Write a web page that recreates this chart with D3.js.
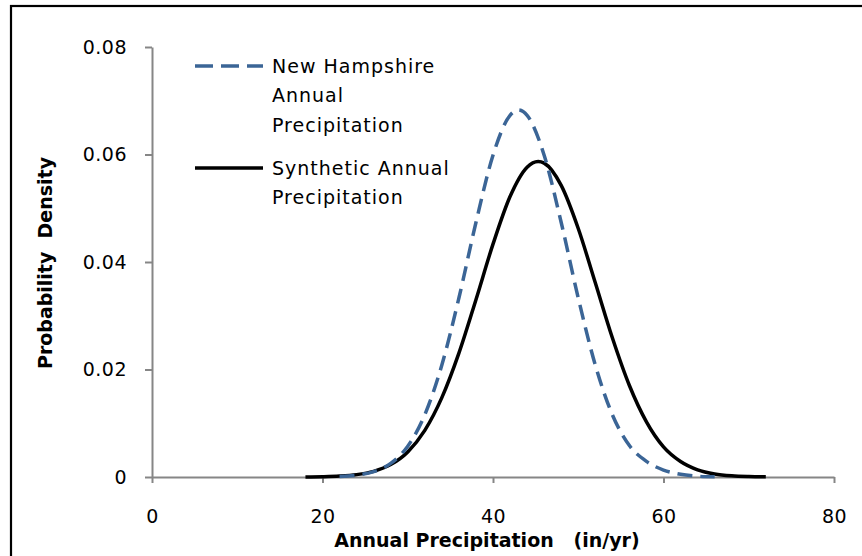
<!DOCTYPE html>
<html>
<head>
<meta charset="utf-8">
<script src="https://cdn.jsdelivr.net/npm/d3@7/dist/d3.min.js"></script>
<style>
  html, body { margin: 0; padding: 0; background: #fff; }
  svg { display: block; }
  text { font-family: "DejaVu Sans", sans-serif; fill: #000; }
</style>
</head>
<body>
<svg id="chart" width="862" height="556"></svg>
<script>
// ---- data ----
const xTicks = [0, 20, 40, 60, 80];
const yTicks = [0, 0.02, 0.04, 0.06, 0.08];
const yTickLabels = ["0", "0.02", "0.04", "0.06", "0.08"];

const nhX = [22, 24, 26, 28, 30, 32, 34, 36, 38, 40, 42, 43, 44, 46, 48, 50, 52, 54, 56, 58, 60, 62, 64, 66];
const nhY = [0.0001, 0.00034, 0.00099, 0.00253, 0.00573, 0.01158, 0.02083, 0.0333, 0.04735, 0.05986, 0.0673, 0.0683, 0.0673, 0.05986, 0.04735, 0.0333, 0.02083, 0.01158, 0.00585, 0.0029, 0.0013, 0.0005, 0.00015, 0.00003];

const synX = [18, 20, 22, 24, 26, 28, 30, 32, 34, 36, 38, 40, 42, 44, 45.3, 46, 48, 50, 52, 54, 56, 58, 60, 62, 64, 66, 68, 70, 72];
const synY = [0.00002, 0.00006, 0.00017, 0.00044, 0.00105, 0.00231, 0.00467, 0.00867, 0.01476, 0.02304, 0.03299, 0.04332, 0.05218, 0.05764, 0.0587, 0.05839, 0.05425, 0.04623, 0.03613, 0.0259, 0.01702, 0.01026, 0.0056, 0.00288, 0.00134, 0.00057, 0.00022, 0.00008, 0.00003];

const seriesNames = ["New Hampshire|Annual|Precipitation", "Synthetic Annual|Precipitation"];
const seriesColors = ["#3b6596", "#000000"];
const xTitle = "Annual Precipitation   (in/yr)";
const yTitle = "Probability  Density";

// ---- drawing ----
const svg = d3.select("#chart");
const x = d3.scaleLinear().domain([0, 80]).range([152, 834]);
const y = d3.scaleLinear().domain([0, 0.08]).range([477, 47]);

// outer frame
svg.append("rect").attr("x", 11).attr("y", 6).attr("width", 880).attr("height", 600)
  .attr("fill", "none").attr("stroke", "#000").attr("stroke-width", 2.2);

const axisColor = "#868686";
const xAxis = svg.append("g").attr("transform", `translate(0,${y(0)})`)
  .call(d3.axisBottom(x).tickValues(xTicks).tickSizeOuter(0).tickSizeInner(6).tickPadding(27));
const yAxis = svg.append("g").attr("transform", `translate(${x(0)},0)`)
  .call(d3.axisLeft(y).tickValues(yTicks).tickFormat((d, i) => yTickLabels[i]).tickSizeOuter(0).tickSizeInner(7).tickPadding(18));
[xAxis, yAxis].forEach(g => {
  g.select(".domain").attr("stroke", axisColor).attr("stroke-width", 2);
  g.selectAll(".tick line").attr("stroke", axisColor).attr("stroke-width", 2);
  g.selectAll(".tick text").attr("font-family", "DejaVu Sans").attr("font-size", 19).attr("fill", "#000")
    .attr("letter-spacing", 0.5);
});

const line = d3.line().x(d => x(d[0])).y(d => y(d[1])).curve(d3.curveMonotoneX);
const nhData = nhX.map((v, i) => [v, nhY[i]]);
const synData = synX.map((v, i) => [v, synY[i]]);

svg.append("path").datum(synData).attr("d", line)
  .attr("fill", "none").attr("stroke", seriesColors[1]).attr("stroke-width", 3.5);
svg.append("path").datum(nhData).attr("d", line)
  .attr("fill", "none").attr("stroke", seriesColors[0]).attr("stroke-width", 3.5)
  .attr("stroke-dasharray", "15,8");

// axis titles
svg.append("text").attr("x", 487).attr("y", 547).attr("text-anchor", "middle")
  .attr("font-size", 19).attr("font-weight", "bold").style("white-space", "pre").text(xTitle);
svg.append("text").attr("transform", "translate(52,263) rotate(-90)").attr("text-anchor", "middle")
  .attr("font-size", 19).attr("font-weight", "bold").style("white-space", "pre").text(yTitle);

// legend
const legendY = [66, 168];
seriesNames.forEach((name, i) => {
  const g = svg.append("g");
  const ln = g.append("line").attr("x1", 195).attr("x2", 263).attr("y1", legendY[i]).attr("y2", legendY[i])
    .attr("stroke", seriesColors[i]).attr("stroke-width", 3.5);
  if (i === 0) ln.attr("stroke-dasharray", "18,8");
  name.split("|").forEach((part, j) => {
    g.append("text").attr("x", 272).attr("y", legendY[i] + j * 29.5).attr("dy", "0.35em")
      .attr("font-size", 19).attr("letter-spacing", 1).text(part);
  });
});
</script>
</body>
</html>
